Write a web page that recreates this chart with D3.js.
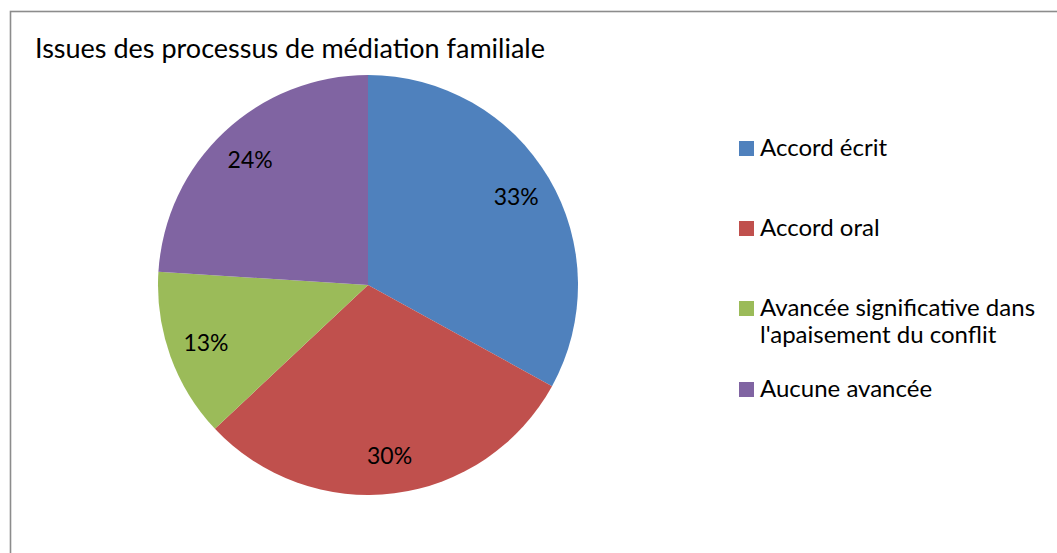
<!DOCTYPE html>
<html><head><meta charset="utf-8">
<script src="https://cdn.jsdelivr.net/npm/d3@7"></script>
<style>body{margin:0;background:#fff}svg{display:block}</style>
</head><body>
<script>
const categories = ["Accord écrit", "Accord oral", "Avancée significative dans l'apaisement du conflit", "Aucune avancée"];
const legendLines = [["Accord écrit"], ["Accord oral"], ["Avancée significative dans", "l'apaisement du conflit"], ["Aucune avancée"]];
const values = [33, 30, 13, 24];
const labels = ["33%", "30%", "13%", "24%"];
const colors = ["#4F81BD", "#C0504D", "#9BBB59", "#8064A2"];
const title = "Issues des processus de médiation familiale";

const W = 1057, H = 553;
const svg = d3.select("body").append("svg").attr("width", W).attr("height", H);
svg.append("rect").attr("x", 10.5).attr("y", 11.5).attr("width", W + 10).attr("height", H + 10)
  .attr("fill", "#fff").attr("stroke", "#8c8c8c").attr("stroke-width", 1.6);

const font = "Lato, 'Open Sans', sans-serif";
svg.append("text").attr("x", 35).attr("y", 58).attr("font-family", font).attr("font-size", 27)
  .attr("fill", "#000").text(title);

const cx = 368, cy = 285, r = 210;
const pie = d3.pie().sort(null).value(d => d)(values);
const arc = d3.arc().innerRadius(0).outerRadius(r);
const g = svg.append("g").attr("transform", `translate(${cx},${cy})`);
g.selectAll("path").data(pie).join("path").attr("d", arc).attr("fill", (d, i) => colors[i]);
const labelArc = d3.arc().innerRadius(r * 0.82).outerRadius(r * 0.82);
g.selectAll("text").data(pie).join("text")
  .attr("transform", d => `translate(${labelArc.centroid(d)})`)
  .attr("text-anchor", "middle").attr("dy", "0.35em")
  .attr("font-family", font).attr("font-size", 23).attr("fill", "#000")
  .text((d, i) => labels[i]);

const legY = [156, 236, 316, 397];
const leg = svg.append("g");
legendLines.forEach((lines, i) => {
  leg.append("rect").attr("x", 739).attr("y", legY[i] - 15).attr("width", 15).attr("height", 15).attr("fill", colors[i]);
  lines.forEach((t, j) => {
    leg.append("text").attr("x", 760).attr("y", legY[i] + j * 27).attr("font-family", font)
      .attr("font-size", 24).attr("fill", "#000").text(t);
  });
});
</script>
</body></html>
